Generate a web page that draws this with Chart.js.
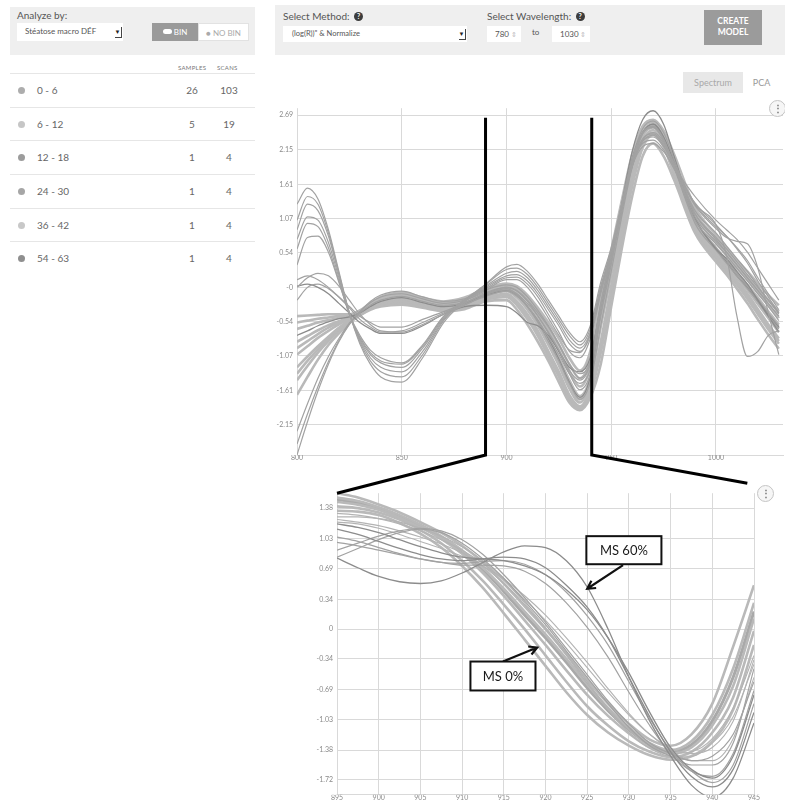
<!DOCTYPE html>
<html>
<head>
<meta charset="utf-8">
<script src="https://cdn.jsdelivr.net/npm/chart.js@4.4.1/dist/chart.umd.min.js"></script>
<style>
  body { margin: 0; width: 785px; height: 803px; position: relative; overflow: hidden; background: #fff;
         font-family: Lato, "Open Sans", sans-serif; color: #555; }
  .abs { position: absolute; }
  .greybox { background: #efefef; }
  .lbl { font-size: 10px; color: #555; }
  .field { background: #fff; font-size: 8px; color: #555; line-height: 17px; box-sizing: border-box; }
  .drop { position: absolute; right: 2px; top: 3px; width: 7px; height: 11px; background: #fff;
          box-shadow: 1px 1px 0 #444; font-size: 6px; line-height: 11px; text-align: center; color: #222; }
  .help { display: inline-block; width: 9px; height: 9px; border-radius: 50%; background: #3c3c3c; color: #fff;
          font-size: 7px; line-height: 9px; text-align: center; font-weight: bold; vertical-align: 1px; margin-left: 2px; }
  .spin { position: absolute; right: 4px; top: 0; font-size: 7px; color: #bbb; }
  .row { position: relative; height: 33.7px; border-top: 1px solid #e6e6e6; box-sizing: border-box;
         font-size: 10px; color: #666; line-height: 32px; }
  .dot { position: absolute; left: 8px; top: 13px; width: 7px; height: 7px; border-radius: 50%; }
  .menu { position: absolute; width: 15px; height: 15px; border-radius: 50%; border: 1px solid #c4c4c4;
          background: #f6f6f6; color: #777; font-size: 10px; line-height: 14px; text-align: center; font-weight: bold; }
  canvas { position: absolute; }
</style>
</head>
<body>

<!-- left panel -->
<div class="abs greybox" style="left:10px;top:7px;width:245px;height:48px;"></div>
<div class="abs lbl" style="left:17px;top:9px;">Analyze by:</div>
<div class="abs field" style="left:17px;top:23px;width:106px;height:18px;padding-left:8px;">Stéatose macro DÉF<span class="drop">▼</span></div>
<div class="abs" style="left:152px;top:23px;width:46px;height:18px;background:#9a9a9a;color:#fff;font-size:8px;line-height:18px;text-align:center;">
  <span style="display:inline-block;width:9px;height:5px;border-radius:3px;background:#fff;vertical-align:1px;"></span> BIN</div>
<div class="abs" style="left:198px;top:23px;width:51px;height:18px;background:#fff;color:#aaa;font-size:8px;line-height:18px;text-align:center;box-sizing:border-box;border:1px solid #e2e2e2;">● NO BIN</div>
<div class="abs" style="left:178px;top:64px;font-size:6px;color:#777;letter-spacing:0.3px;">SAMPLES</div>
<div class="abs" style="left:217px;top:64px;font-size:6px;color:#777;letter-spacing:0.3px;">SCANS</div>
<div class="abs" id="binRows" style="left:10px;top:73px;width:245px;"></div>

<!-- top controls -->
<div class="abs greybox" style="left:275px;top:5px;width:510px;height:50px;"></div>
<div class="abs lbl" style="left:283px;top:10px;">Select Method: <span class="help">?</span></div>
<div class="abs field" style="left:283px;top:26px;width:184px;height:16px;line-height:16px;padding-left:9px;font-size:7.5px;">(log(R))" &amp; Normalize<span class="drop" style="top:2px;">▼</span></div>
<div class="abs lbl" style="left:487px;top:10px;">Select Wavelength: <span class="help">?</span></div>
<div class="abs field" style="left:487px;top:26px;width:34px;height:16px;line-height:16px;padding-left:8px;">780<span class="spin">⇕</span></div>
<div class="abs" style="left:532px;top:27px;font-size:8px;color:#555;">to</div>
<div class="abs field" style="left:552px;top:26px;width:38px;height:16px;line-height:16px;padding-left:8px;">1030<span class="spin">⇕</span></div>
<div class="abs" style="left:704px;top:10px;width:58px;height:35px;background:#9b9b9b;color:#fff;font-size:8.5px;font-weight:bold;text-align:center;line-height:11px;padding-top:6px;box-sizing:border-box;">CREATE<br>MODEL</div>
<div class="abs" style="left:683px;top:72px;width:60px;height:21px;background:#e8e8e8;color:#a8a8a8;font-size:9px;line-height:21px;text-align:center;">Spectrum</div>
<div class="abs" style="left:743px;top:72px;width:37px;height:21px;background:#fff;color:#999;font-size:9px;line-height:21px;text-align:center;">PCA</div>

<canvas id="spectrumChart" width="523" height="365" style="left:262px;top:100px;"></canvas>
<canvas id="zoomChart" width="483" height="318" style="left:302px;top:485px;"></canvas>
<canvas id="connectors" width="785" height="803" style="left:0;top:0;pointer-events:none;"></canvas>
<div class="menu" style="left:769px;top:100px;">⋮</div>
<div class="menu" style="left:757px;top:485px;">⋮</div>

<script>
// ---- bins table ----
const binLabels = ['0 - 6', '6 - 12', '12 - 18', '24 - 30', '36 - 42', '54 - 63'];
const binSamples = [26, 5, 1, 1, 1, 1];
const binScans = [103, 19, 4, 4, 4, 4];
const binDotColors = ['#adadad', '#c6c6c6', '#9c9c9c', '#a6a6a6', '#c8c8c8', '#8f8f8f'];

// ---- spectrum (top chart) ----
const topWavelengths = [800, 805, 810, 815, 820, 825, 830, 835, 840, 850, 860, 870, 880, 890,
    900, 905, 910, 915, 920, 925, 930, 935, 940, 945, 950, 955, 960, 965, 970, 975, 980,
    990, 1000, 1005, 1010, 1015, 1020, 1025, 1030];
const topXTicks = [800, 850, 900, 950, 1000];
const topYTicks = [2.69, 2.15, 1.61, 1.07, 0.54, 0, -0.54, -1.07, -1.61, -2.15];
const topYTickLabels = ['2.69', '2.15', '1.61', '1.07', '0.54', '-0', '-0.54', '-1.07', '-1.61', '-2.15'];

const topMainA = [-0.45,-0.44,-0.43,-0.42,-0.42,-0.42,-0.36,-0.25,-0.15,-0.08,-0.16,-0.22,-0.16,-0.02,0.06,0.02,-0.12,-0.32,-0.55,-0.8,-1.1,-1.3,-1.0,-0.1,0.58,1.35,2.08,2.52,2.62,2.45,2.08,1.25,0.82,0.62,0.42,0.25,0.06,-0.12,-0.28];
const topMainH = [-0.55,-0.52,-0.49,-0.47,-0.45,-0.44,-0.37,-0.27,-0.17,-0.1,-0.18,-0.24,-0.18,-0.04,0.04,-0.02,-0.16,-0.37,-0.62,-0.9,-1.2,-1.42,-1.12,-0.2,0.52,1.3,2.04,2.5,2.6,2.42,2.02,1.18,0.76,0.56,0.36,0.18,-0.02,-0.2,-0.38];
const topMainB = [-0.65,-0.6,-0.55,-0.51,-0.48,-0.45,-0.38,-0.28,-0.18,-0.12,-0.2,-0.26,-0.2,-0.06,0.02,-0.05,-0.2,-0.42,-0.68,-0.98,-1.3,-1.55,-1.25,-0.32,0.45,1.25,2.0,2.48,2.58,2.4,1.98,1.12,0.7,0.5,0.3,0.12,-0.08,-0.28,-0.48];
const topMainC = [-0.85,-0.76,-0.67,-0.59,-0.53,-0.47,-0.4,-0.3,-0.21,-0.15,-0.23,-0.29,-0.24,-0.1,-0.02,-0.1,-0.28,-0.5,-0.78,-1.1,-1.45,-1.7,-1.4,-0.48,0.32,1.12,1.9,2.42,2.55,2.35,1.92,1.05,0.62,0.42,0.22,0.04,-0.16,-0.38,-0.58];
const topMainI = [-0.95,-0.84,-0.73,-0.63,-0.55,-0.48,-0.4,-0.31,-0.23,-0.17,-0.25,-0.3,-0.26,-0.12,-0.04,-0.13,-0.32,-0.55,-0.84,-1.16,-1.52,-1.75,-1.45,-0.55,0.26,1.06,1.85,2.39,2.52,2.32,1.89,1.02,0.58,0.38,0.18,0.0,-0.21,-0.43,-0.64];
const topMainD = [-1.05,-0.92,-0.79,-0.68,-0.58,-0.49,-0.41,-0.32,-0.24,-0.18,-0.26,-0.31,-0.27,-0.13,-0.06,-0.16,-0.35,-0.6,-0.9,-1.22,-1.58,-1.8,-1.48,-0.62,0.2,1.0,1.8,2.36,2.5,2.3,1.86,1.0,0.55,0.35,0.15,-0.04,-0.26,-0.48,-0.7];
const topMainE = [-1.25,-1.08,-0.92,-0.77,-0.63,-0.51,-0.42,-0.33,-0.26,-0.21,-0.28,-0.33,-0.3,-0.16,-0.1,-0.22,-0.42,-0.68,-1.0,-1.32,-1.68,-1.86,-1.58,-0.85,0.02,0.88,1.7,2.28,2.46,2.25,1.8,0.95,0.5,0.3,0.1,-0.1,-0.34,-0.58,-0.8];
const topMainJ = [-1.35,-1.15,-0.97,-0.8,-0.65,-0.52,-0.42,-0.33,-0.27,-0.22,-0.29,-0.34,-0.31,-0.18,-0.12,-0.25,-0.46,-0.72,-1.04,-1.36,-1.72,-1.88,-1.62,-0.93,-0.06,0.82,1.64,2.23,2.42,2.22,1.78,0.92,0.48,0.28,0.07,-0.14,-0.38,-0.62,-0.84];
const topMainF = [-1.45,-1.23,-1.02,-0.84,-0.68,-0.54,-0.43,-0.34,-0.28,-0.24,-0.3,-0.35,-0.32,-0.19,-0.15,-0.28,-0.5,-0.76,-1.08,-1.4,-1.75,-1.9,-1.65,-1.02,-0.15,0.75,1.58,2.18,2.38,2.2,1.76,0.9,0.45,0.25,0.04,-0.18,-0.42,-0.66,-0.88];
const topMainG = [-1.68,-1.4,-1.13,-0.9,-0.72,-0.56,-0.44,-0.35,-0.3,-0.27,-0.32,-0.37,-0.34,-0.22,-0.2,-0.35,-0.58,-0.85,-1.15,-1.48,-1.8,-1.92,-1.72,-1.2,-0.3,0.6,1.42,2.05,2.25,2.05,1.68,0.85,0.4,0.2,-0.02,-0.25,-0.5,-0.74,-0.96];
const topPeak = [-0.75,-0.68,-0.6,-0.54,-0.49,-0.46,-0.4,-0.3,-0.22,-0.16,-0.24,-0.3,-0.25,-0.12,-0.05,-0.12,-0.3,-0.52,-0.8,-1.12,-1.48,-1.72,-1.4,-0.4,0.42,1.3,2.12,2.62,2.76,2.55,2.05,1.08,0.6,0.4,0.18,0.0,-0.22,-0.42,-0.62];

const topHighA = [1.3,1.55,1.38,0.9,0.25,-0.4,-0.88,-1.2,-1.4,-1.48,-1.1,-0.55,-0.22,0.05,0.32,0.36,0.25,0.05,-0.2,-0.45,-0.7,-0.85,-0.6,0.08,0.62,1.3,1.9,2.2,2.25,2.12,1.88,1.42,1.05,0.9,0.75,0.55,0.3,0.05,-0.2];
const topHighB = [1.05,1.42,1.3,0.85,0.22,-0.4,-0.85,-1.15,-1.32,-1.4,-1.05,-0.52,-0.2,0.04,0.28,0.3,0.2,0.0,-0.25,-0.5,-0.75,-0.9,-0.65,0.02,0.58,1.28,1.92,2.25,2.3,2.15,1.85,1.32,0.98,0.8,0.62,0.42,0.15,-0.1,-0.35];
const topHighC = [0.9,1.3,1.2,0.8,0.2,-0.4,-0.82,-1.1,-1.25,-1.32,-1.0,-0.5,-0.2,0.02,0.22,0.25,0.15,-0.05,-0.3,-0.55,-0.82,-0.95,-0.7,-0.02,0.55,1.25,1.92,2.3,2.35,2.2,1.9,1.28,0.92,0.78,0.72,0.68,0.3,-0.4,-1.05];
const topHighD = [0.75,1.1,1.05,0.7,0.15,-0.42,-0.8,-1.05,-1.18,-1.25,-0.95,-0.48,-0.2,0.0,0.18,0.2,0.1,-0.1,-0.35,-0.6,-0.88,-1.0,-0.75,-0.05,0.52,1.22,1.9,2.32,2.4,2.25,1.92,1.2,0.85,0.65,0.45,0.25,0.02,-0.2,-0.42];
const topHighE = [0.6,1.0,0.95,0.62,0.1,-0.42,-0.78,-1.02,-1.15,-1.2,-0.92,-0.46,-0.2,-0.02,0.15,0.16,0.05,-0.15,-0.42,-0.7,-1.0,-1.1,-0.8,-0.1,0.5,1.2,1.88,2.3,2.42,2.28,1.95,1.3,0.98,0.5,-0.45,-1.08,-1.0,-0.75,-0.68];
const topHighF = [0.35,0.78,0.8,0.55,0.08,-0.42,-0.75,-0.98,-1.1,-1.18,-0.9,-0.45,-0.22,-0.05,0.12,0.12,0.0,-0.22,-0.48,-0.75,-0.98,-1.02,-0.72,-0.05,0.55,1.25,1.9,2.28,2.38,2.22,1.9,1.3,0.95,0.8,0.6,0.38,0.1,-0.15,-0.4];

const topHumpA = [0.0,0.15,0.22,0.18,0.02,-0.2,-0.42,-0.58,-0.68,-0.7,-0.58,-0.42,-0.28,-0.12,-0.02,-0.1,-0.25,-0.45,-0.7,-0.98,-1.3,-1.45,-1.2,-0.3,0.45,1.25,2.0,2.42,2.52,2.32,1.9,1.1,0.72,0.55,0.35,0.15,-0.05,-0.25,-0.45];
const topHumpB = [0.12,0.18,0.12,0.0,-0.15,-0.32,-0.5,-0.62,-0.7,-0.68,-0.55,-0.4,-0.27,-0.14,-0.06,-0.14,-0.3,-0.52,-0.78,-1.05,-1.35,-1.5,-1.28,-0.38,0.4,1.2,1.95,2.4,2.5,2.3,1.88,1.05,0.68,0.5,0.3,0.1,-0.1,-0.3,-0.52];
const topHumpC = [-0.2,0.0,0.05,-0.02,-0.15,-0.3,-0.45,-0.55,-0.62,-0.62,-0.5,-0.38,-0.25,-0.1,0.0,-0.05,-0.2,-0.4,-0.62,-0.9,-1.2,-1.35,-1.15,-0.25,0.5,1.3,2.0,2.42,2.5,2.3,1.9,1.15,0.78,0.6,0.4,0.2,0.0,-0.2,-0.4];
const topHumpD = [0.02,0.05,0.0,-0.1,-0.25,-0.4,-0.55,-0.65,-0.72,-0.72,-0.6,-0.42,-0.3,-0.28,-0.3,-0.4,-0.55,-0.6,-0.75,-1.0,-1.25,-1.32,-1.1,-0.3,0.45,1.25,2.0,2.42,2.55,2.35,1.95,1.08,0.6,0.45,0.25,0.05,-0.2,-0.45,-0.7];

const topLowA = [-2.62,-2.1,-1.62,-1.2,-0.85,-0.58,-0.38,-0.22,-0.12,-0.06,-0.15,-0.22,-0.18,-0.04,0.04,0.0,-0.15,-0.36,-0.6,-0.88,-1.2,-1.42,-1.18,-0.25,0.5,1.3,2.02,2.48,2.6,2.42,2.0,1.15,0.75,0.55,0.35,0.15,-0.05,-0.25,-0.45];
const topLowB = [-2.45,-1.98,-1.55,-1.16,-0.83,-0.57,-0.38,-0.24,-0.15,-0.1,-0.18,-0.25,-0.2,-0.08,0.0,-0.06,-0.22,-0.45,-0.72,-1.0,-1.35,-1.6,-1.35,-0.45,0.35,1.18,1.95,2.42,2.55,2.35,1.9,1.05,0.62,0.42,0.22,0.02,-0.18,-0.4,-0.6];
const topLowC = [-2.25,-1.82,-1.42,-1.08,-0.8,-0.56,-0.4,-0.28,-0.2,-0.14,-0.22,-0.28,-0.23,-0.1,-0.04,-0.12,-0.3,-0.55,-0.85,-1.15,-1.5,-1.75,-1.48,-0.6,0.25,1.1,1.88,2.4,2.52,2.32,1.88,1.0,0.58,0.38,0.18,-0.02,-0.22,-0.45,-0.65];

// ---- zoom 895-945 (bottom chart) ----
const zoomWavelengths = [895, 897.5, 900, 902.5, 905, 907.5, 910, 912.5, 915, 917.5, 920,
    922.5, 925, 927.5, 930, 932.5, 935, 937.5, 940, 942.5, 945];
const zoomXTicks = [895, 900, 905, 910, 915, 920, 925, 930, 935, 940, 945];
const zoomYTicks = [1.38, 1.03, 0.69, 0.34, 0, -0.34, -0.69, -1.03, -1.38, -1.72];

const zoomMainA = [1.55,1.5,1.42,1.33,1.22,1.1,0.95,0.76,0.52,0.26,0.0,-0.28,-0.58,-0.85,-1.08,-1.26,-1.33,-1.2,-0.85,-0.2,0.5];
const zoomMainB = [1.5,1.46,1.39,1.3,1.19,1.06,0.9,0.7,0.46,0.2,-0.06,-0.34,-0.63,-0.9,-1.12,-1.3,-1.38,-1.28,-0.98,-0.45,0.3];
const zoomMainC = [1.45,1.42,1.36,1.27,1.16,1.03,0.86,0.64,0.38,0.1,-0.18,-0.47,-0.75,-0.99,-1.19,-1.35,-1.42,-1.35,-1.1,-0.65,0.12];
const zoomMainD = [1.4,1.38,1.33,1.25,1.13,0.98,0.78,0.55,0.28,0.0,-0.3,-0.6,-0.88,-1.1,-1.28,-1.4,-1.46,-1.4,-1.18,-0.78,-0.02];
const zoomMainE = [1.35,1.34,1.3,1.21,1.09,0.93,0.72,0.47,0.18,-0.12,-0.42,-0.72,-0.98,-1.18,-1.33,-1.44,-1.49,-1.45,-1.28,-0.92,-0.18];
const zoomMainF = [1.48,1.44,1.37,1.28,1.17,1.04,0.88,0.68,0.43,0.16,-0.1,-0.38,-0.67,-0.93,-1.15,-1.32,-1.4,-1.32,-1.05,-0.55,0.2];
const zoomMidA = [1.2,1.16,1.1,1.02,0.94,0.87,0.82,0.8,0.78,0.72,0.62,0.45,0.22,-0.1,-0.5,-0.95,-1.35,-1.6,-1.7,-1.45,-0.75];
const zoomMidB = [1.14,1.08,1.0,0.92,0.85,0.8,0.78,0.8,0.82,0.8,0.7,0.5,0.25,-0.1,-0.55,-1.0,-1.4,-1.68,-1.8,-1.6,-0.95];
const zoomMidC = [1.05,1.0,0.93,0.86,0.8,0.76,0.75,0.77,0.78,0.74,0.62,0.42,0.15,-0.18,-0.6,-1.02,-1.38,-1.62,-1.75,-1.55,-0.85];
const zoomMidD = [0.99,0.95,0.9,0.85,0.8,0.76,0.73,0.73,0.72,0.66,0.52,0.3,0.02,-0.32,-0.72,-1.1,-1.42,-1.62,-1.68,-1.42,-0.7];
const zoomMidE = [0.9,0.98,1.06,1.12,1.15,1.12,1.02,0.85,0.62,0.36,0.08,-0.22,-0.52,-0.82,-1.08,-1.3,-1.42,-1.5,-1.45,-1.2,-0.6];
const zoomMidF = [0.82,0.92,1.02,1.1,1.14,1.1,0.98,0.8,0.58,0.32,0.05,-0.25,-0.55,-0.85,-1.12,-1.33,-1.45,-1.55,-1.55,-1.3,-0.45];
const zoomMidG = [1.28,1.28,1.26,1.22,1.15,1.06,0.94,0.78,0.56,0.3,0.02,-0.28,-0.6,-0.9,-1.15,-1.33,-1.42,-1.4,-1.25,-0.9,-0.3];
const zoomMidH = [1.25,1.22,1.18,1.12,1.05,0.97,0.87,0.72,0.52,0.28,0.0,-0.3,-0.62,-0.92,-1.18,-1.36,-1.45,-1.45,-1.3,-1.0,-0.4];
const zoomMidI = [1.32,1.3,1.26,1.2,1.12,1.02,0.9,0.75,0.56,0.34,0.1,-0.16,-0.44,-0.72,-0.98,-1.2,-1.36,-1.42,-1.35,-1.05,-0.35];
const zoomMidJ = [1.22,1.2,1.15,1.08,1.0,0.92,0.83,0.72,0.57,0.38,0.16,-0.1,-0.38,-0.68,-0.96,-1.2,-1.38,-1.5,-1.5,-1.25,-0.55];
const zoomMs60 = [0.81,0.7,0.6,0.54,0.52,0.55,0.64,0.76,0.88,0.95,0.93,0.78,0.48,0.0,-0.55,-1.05,-1.45,-1.78,-1.92,-1.7,-1.07];

// callouts on the zoom chart, in data units
const msNotes = [
    { text: 'MS 60%', box: [924.9, 1.06, 933.9, 0.74], from: [929.3, 0.73], to: [925.0, 0.46] },
    { text: 'MS 0%', box: [911.0, -0.37, 918.8, -0.70], from: [914.9, -0.37], to: [919.0, -0.21] }
];
// where the zoom window was marked on the spectrum
const zoomWindow = [890, 940.7];

const FONT = 'Lato, "Open Sans", sans-serif';
const bandStyle = { color: '#b9b9b9', width: 2.6 };
const lineStyle = { color: '#a2a2a2', width: 1.2 };
const softStyle = { color: '#b3b3b3', width: 1.1 };
const darkStyle = { color: '#8c8c8c', width: 1.3 };
const gridColor = '#d9d9d9';

// table rows
const rowsBox = document.getElementById('binRows');
binLabels.forEach((label, i) => {
    const row = `
        <div class="row">
            <span class="dot" style="background:${binDotColors[i]}"></span>
            <span style="position:absolute;left:27px;">${label}</span>
            <span style="position:absolute;left:167px;width:30px;text-align:center;">${binSamples[i]}</span>
            <span style="position:absolute;left:204px;width:30px;text-align:center;">${binScans[i]}</span>
        </div>`;
    rowsBox.insertAdjacentHTML('beforeend', row);
});

function lineSet(xs, ys, style) {
    return {
        data: xs.map((x, i) => ({ x: x, y: ys[i] })),
        borderColor: style.color,
        borderWidth: style.width,
        pointRadius: 0,
        fill: false,
        cubicInterpolationMode: 'monotone'
    };
}

function axes(xMin, xMax, xTicks, yMin, yMax, yTicks, yLabel, xHeight) {
    return {
        x: {
            type: 'linear', min: xMin, max: xMax,
            afterBuildTicks: s => { s.ticks = xTicks.map(v => ({ value: v })); },
            afterFit: s => { s.height = xHeight; },
            ticks: { font: { size: 7, family: FONT }, color: '#8a8a8a', padding: -1, maxRotation: 0,
                     autoSkip: false, callback: v => String(v) },
            grid: { color: gridColor, drawTicks: false },
            border: { color: gridColor }
        },
        y: {
            min: yMin, max: yMax,
            afterBuildTicks: s => { s.ticks = yTicks.map(v => ({ value: v })); },
            afterFit: s => { s.width = 35; },
            ticks: { font: { size: 7, family: FONT }, color: '#8a8a8a', padding: 4, callback: yLabel },
            grid: { color: gridColor, drawTicks: false },
            border: { display: false }
        }
    };
}

const baseOptions = {
    responsive: false,
    animation: false,
    events: [],
    plugins: { legend: { display: false }, tooltip: { enabled: false } }
};

// thin lines first so they sit on top of the light band
const topChart = new Chart(document.getElementById('spectrumChart'), {
    type: 'line',
    data: {
        datasets: [
            lineSet(topWavelengths, topHighA, lineStyle),
            lineSet(topWavelengths, topHighB, lineStyle),
            lineSet(topWavelengths, topHighC, lineStyle),
            lineSet(topWavelengths, topHighD, lineStyle),
            lineSet(topWavelengths, topHighE, lineStyle),
            lineSet(topWavelengths, topHighF, lineStyle),
            lineSet(topWavelengths, topHumpA, lineStyle),
            lineSet(topWavelengths, topHumpB, lineStyle),
            lineSet(topWavelengths, topHumpC, lineStyle),
            lineSet(topWavelengths, topHumpD, darkStyle),
            lineSet(topWavelengths, topLowA, lineStyle),
            lineSet(topWavelengths, topLowB, lineStyle),
            lineSet(topWavelengths, topLowC, lineStyle),
            lineSet(topWavelengths, topPeak, darkStyle),
            lineSet(topWavelengths, topMainA, bandStyle),
            lineSet(topWavelengths, topMainH, bandStyle),
            lineSet(topWavelengths, topMainB, bandStyle),
            lineSet(topWavelengths, topMainC, bandStyle),
            lineSet(topWavelengths, topMainI, bandStyle),
            lineSet(topWavelengths, topMainD, bandStyle),
            lineSet(topWavelengths, topMainE, bandStyle),
            lineSet(topWavelengths, topMainJ, bandStyle),
            lineSet(topWavelengths, topMainF, bandStyle),
            lineSet(topWavelengths, topMainG, bandStyle)
        ]
    },
    options: Object.assign({}, baseOptions, {
        layout: { padding: { top: 5, right: 2, left: 0, bottom: 0 } },
        scales: axes(800, 1032, topXTicks, -2.62, 2.8, topYTicks,
            v => topYTickLabels[topYTicks.indexOf(v)], 10)
    })
});

const msNotesPlugin = {
    id: 'msNotes',
    afterDatasetsDraw(chart) {
        const { ctx, scales: { x, y } } = chart;
        msNotes.forEach(n => {
            const x0 = x.getPixelForValue(n.box[0]), y0 = y.getPixelForValue(n.box[1]);
            const x1 = x.getPixelForValue(n.box[2]), y1 = y.getPixelForValue(n.box[3]);
            const fx = x.getPixelForValue(n.from[0]), fy = y.getPixelForValue(n.from[1]);
            const tx = x.getPixelForValue(n.to[0]), ty = y.getPixelForValue(n.to[1]);
            const ang = Math.atan2(ty - fy, tx - fx);
            ctx.save();
            ctx.strokeStyle = '#111';
            ctx.lineWidth = 2.2;
            ctx.beginPath();
            ctx.moveTo(fx, fy);
            ctx.lineTo(tx, ty);
            ctx.moveTo(tx - 9 * Math.cos(ang - 0.5), ty - 9 * Math.sin(ang - 0.5));
            ctx.lineTo(tx, ty);
            ctx.lineTo(tx - 9 * Math.cos(ang + 0.5), ty - 9 * Math.sin(ang + 0.5));
            ctx.stroke();
            ctx.fillStyle = '#fff';
            ctx.fillRect(x0, y0, x1 - x0, y1 - y0);
            ctx.lineWidth = 2;
            ctx.strokeRect(x0, y0, x1 - x0, y1 - y0);
            ctx.fillStyle = '#1a1a1a';
            ctx.font = '13px ' + FONT;
            ctx.textAlign = 'center';
            ctx.textBaseline = 'middle';
            ctx.fillText(n.text, (x0 + x1) / 2, (y0 + y1) / 2 + 1);
            ctx.restore();
        });
    }
};

const zoomChart = new Chart(document.getElementById('zoomChart'), {
    type: 'line',
    data: {
        datasets: [
            lineSet(zoomWavelengths, zoomMs60, darkStyle),
            lineSet(zoomWavelengths, zoomMidA, darkStyle),
            lineSet(zoomWavelengths, zoomMidB, darkStyle),
            lineSet(zoomWavelengths, zoomMidC, lineStyle),
            lineSet(zoomWavelengths, zoomMidD, lineStyle),
            lineSet(zoomWavelengths, zoomMidE, lineStyle),
            lineSet(zoomWavelengths, zoomMidF, lineStyle),
            lineSet(zoomWavelengths, zoomMidG, softStyle),
            lineSet(zoomWavelengths, zoomMidH, softStyle),
            lineSet(zoomWavelengths, zoomMidI, softStyle),
            lineSet(zoomWavelengths, zoomMidJ, softStyle),
            lineSet(zoomWavelengths, zoomMainA, bandStyle),
            lineSet(zoomWavelengths, zoomMainB, bandStyle),
            lineSet(zoomWavelengths, zoomMainC, bandStyle),
            lineSet(zoomWavelengths, zoomMainD, bandStyle),
            lineSet(zoomWavelengths, zoomMainE, bandStyle),
            lineSet(zoomWavelengths, zoomMainF, { color: '#a9a9a9', width: 3 })
        ]
    },
    options: Object.assign({}, baseOptions, {
        layout: { padding: { top: 6, right: 31, left: 0, bottom: 0 } },
        scales: axes(895, 945, zoomXTicks, -1.89, 1.55, zoomYTicks, v => String(v), 8)
    }),
    plugins: [msNotesPlugin]
});

// black lines tying the zoom window on the spectrum to the lower chart
function drawZoomConnectors() {
    const ctx = document.getElementById('connectors').getContext('2d');
    const topBox = topChart.canvas.getBoundingClientRect();
    const zoomBox = zoomChart.canvas.getBoundingClientRect();
    const tArea = topChart.chartArea, zArea = zoomChart.chartArea;
    const yTop = topBox.top + topChart.scales.y.getPixelForValue(2.65);
    const yBottom = topBox.top + tArea.bottom;
    const leftX = topBox.left + topChart.scales.x.getPixelForValue(zoomWindow[0]);
    const rightX = topBox.left + topChart.scales.x.getPixelForValue(zoomWindow[1]);

    ctx.strokeStyle = '#000';
    ctx.lineWidth = 3;
    ctx.lineJoin = 'miter';
    ctx.beginPath();
    ctx.moveTo(leftX, yTop);
    ctx.lineTo(leftX, yBottom);
    ctx.lineTo(zoomBox.left + zArea.left, zoomBox.top + zArea.top);
    ctx.moveTo(rightX, yTop);
    ctx.lineTo(rightX, yBottom);
    ctx.lineTo(zoomBox.left + zoomChart.scales.x.getPixelForValue(944.2), zoomBox.top + zArea.top - 10);
    ctx.stroke();
}

drawZoomConnectors();
</script>
</body>
</html>
